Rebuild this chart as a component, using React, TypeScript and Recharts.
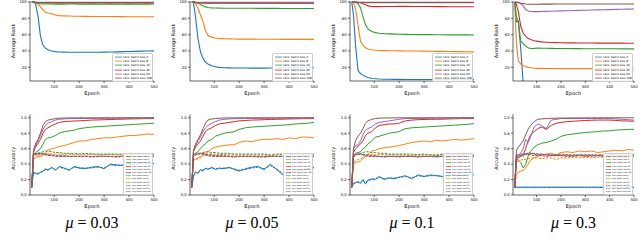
import React from "react";
import { LineChart, Line, XAxis, YAxis, Legend } from "recharts";

const epochs = [10, 17, 25, 35, 45, 55, 65, 75, 90, 105, 120, 140, 160, 180, 200, 225, 250, 275, 300, 325, 350, 375, 400, 425, 450, 475, 500];
const batchSizes = [4, 8, 16, 32, 64, 128];
const colors = ["#1f77b4", "#ff7f0e", "#2ca02c", "#d62728", "#9467bd", "#8c564b"];
const muValues = ["0.03", "0.05", "0.1", "0.3"];
const xTicks = [100, 200, 300, 400, 500];
const rankTicks = [20, 40, 60, 80, 100];
const accTicks = [0, 0.2, 0.4, 0.6, 0.8, 1.0];

// average rank, one row per batch size (4, 8, 16, 32, 64, 128)
const rankMu003 = [
  [100, 100, 98, 83, 58, 47, 43.5, 41.5, 40, 39.2, 38.8, 38.6, 38.5, 38.5, 38.4, 38.5, 38.4, 38.5, 38.6, 38.8, 39, 39.2, 39.4, 39.6, 39.8, 40, 40.2],
  [100, 100, 99, 97.5, 94, 90, 87.5, 86.5, 85.5, 84, 83.3, 83, 82.8, 82.6, 82.5, 82.4, 82.3, 82.3, 82.2, 82.2, 82.1, 82.1, 82, 82, 82, 81.9, 81.9],
  [100, 99.8, 99, 98.2, 97.8, 97.6, 97.5, 97.5, 97.5, 97.4, 97.4, 97.4, 97.5, 97.5, 97.4, 97.5, 97.4, 97.4, 97.5, 97.4, 97.5, 97.4, 97.5, 97.4, 97.5, 97.4, 97.5],
  [100, 100, 99.6, 99.3, 99.2, 99.1, 99, 99, 99, 99, 98.9, 99, 99, 98.9, 99, 99, 98.9, 99, 99, 98.9, 99, 99, 98.9, 99, 99, 98.9, 99],
  [100, 100, 99.8, 99.6, 99.5, 99.5, 99.5, 99.5, 99.5, 99.5, 99.5, 99.5, 99.5, 99.5, 99.5, 99.5, 99.5, 99.5, 99.5, 99.5, 99.5, 99.5, 99.5, 99.5, 99.5, 99.5, 99.5],
  [100, 100, 99.7, 99.4, 99.3, 99.2, 99.2, 99.2, 99.2, 99.2, 99.2, 99.2, 99.2, 99.2, 99.2, 99.2, 99.2, 99.2, 99.2, 99.2, 99.2, 99.2, 99.2, 99.2, 99.2, 99.2, 99.2],
];
const rankMu005 = [
  [100, 99, 82, 55, 39, 31, 26.5, 24, 22, 20.8, 20, 19.6, 19.4, 19.3, 19.2, 19.2, 19.1, 19.1, 19.1, 19.2, 19.2, 19.3, 19.3, 19.4, 19.4, 19.5, 19.5],
  [100, 100, 98, 92, 84, 76, 65, 59, 57, 56, 55.5, 55, 54.8, 54.7, 54.6, 54.5, 54.5, 54.4, 54.4, 54.4, 54.3, 54.3, 54.3, 54.2, 54.2, 54.2, 54.2],
  [100, 100, 99.5, 98.5, 97, 95.5, 94, 93.3, 92.8, 92.6, 92.5, 92.4, 92.4, 92.3, 92.3, 92.3, 92.3, 92.2, 92.2, 92.2, 92.2, 92.1, 92.1, 92.1, 92, 92, 92],
  [100, 100, 99.5, 99.2, 99, 98.9, 98.9, 98.8, 98.8, 98.8, 98.8, 98.8, 98.8, 98.8, 98.8, 98.8, 98.8, 98.8, 98.8, 98.8, 98.8, 98.8, 98.8, 98.8, 98.8, 98.8, 98.8],
  [100, 100, 99.8, 99.7, 99.6, 99.6, 99.6, 99.6, 99.6, 99.6, 99.6, 99.6, 99.6, 99.6, 99.6, 99.6, 99.6, 99.6, 99.6, 99.6, 99.6, 99.6, 99.6, 99.6, 99.6, 99.6, 99.6],
  [100, 100, 99.4, 99, 98.8, 98.7, 98.6, 98.6, 98.6, 98.6, 98.6, 98.6, 98.6, 98.6, 98.6, 98.6, 98.6, 98.6, 98.6, 98.6, 98.6, 98.6, 98.6, 98.6, 98.6, 98.6, 98.6],
];
const rankMu01 = [
  [100, 84, 48, 16, 12.5, 10.5, 8.7, 7.5, 6.4, 6, 5.7, 5.5, 5.4, 5.3, 5.3, 5.2, 5.2, 5.2, 5.2, 5.2, 5.2, 5.2, 5.2, 5.2, 5.2, 5.2, 5.2],
  [100, 99, 92, 72, 52, 47, 44, 42.5, 41.5, 41, 40.7, 40.5, 40.4, 40.3, 40.2, 40.1, 40, 40, 39.9, 39.7, 39.6, 39.5, 39.4, 39.3, 39.2, 39.1, 39],
  [100, 100, 99.5, 98, 93, 82, 72, 67, 64, 62.5, 61.8, 61.3, 61, 60.7, 60.5, 60.3, 60.2, 60.1, 60, 60, 59.9, 59.9, 59.8, 59.8, 59.7, 59.7, 59.6],
  [100, 100, 99.8, 99.5, 99, 97.8, 96.5, 95.2, 94.5, 94.3, 94.3, 94.4, 94.5, 94.5, 94.6, 94.6, 94.5, 94.4, 94.4, 94.4, 94.3, 94.3, 94.2, 94.2, 94.2, 94.1, 94.1],
  [100, 100, 99.6, 99.3, 99.1, 99, 99, 99, 99, 99, 99, 99, 99, 99, 99, 99, 99, 99, 99, 99, 99, 99, 99, 99, 99, 99, 99],
  [100, 100, 99.8, 99.6, 99.5, 99.5, 99.5, 99.5, 99.5, 99.5, 99.5, 99.5, 99.5, 99.5, 99.5, 99.5, 99.5, 99.5, 99.5, 99.5, 99.5, 99.5, 99.5, 99.5, 99.5, 99.5, 99.5],
];
const rankMu03 = [
  [100, 76, 76, 42, 0, 0, 0, 0, 0, 0, 0, 0, 0, 0, 0, 0, 0, 0, 0, 0, 0, 0, 0, 0, 0, 0, 0],
  [100, 50, 28, 24, 22, 21, 20, 19.5, 19, 18.8, 18.7, 18.6, 18.6, 18.5, 18.5, 18.5, 18.5, 18.4, 18.4, 18.4, 18.4, 18.4, 18.3, 18.3, 18.3, 18.3, 18.3],
  [100, 82, 76, 52, 49, 46, 44, 43, 43.2, 43.5, 43.4, 43.3, 43.2, 43.1, 43, 43, 42.9, 42.9, 42.8, 42.8, 42.8, 42.7, 42.7, 42.7, 42.6, 42.6, 42.6],
  [100, 97, 88, 70, 62, 58, 55.5, 54, 52.5, 51.8, 51.2, 50.8, 50.5, 50.3, 50.2, 50, 49.9, 49.8, 49.8, 49.8, 49.7, 49.7, 49.6, 49.6, 49.6, 49.5, 49.5],
  [100, 100, 99.5, 98, 95, 91, 89, 88.5, 88.2, 88.2, 88.3, 88.5, 88.7, 88.9, 89.1, 89.3, 89.5, 89.7, 89.9, 90.1, 90.3, 90.5, 90.7, 90.9, 91.1, 91.3, 91.5],
  [100, 99.5, 99, 98.5, 98, 97.5, 97.2, 97.2, 97.3, 97.3, 97.4, 97.4, 97.4, 97.5, 97.5, 97.5, 97.5, 97.5, 97.5, 97.5, 97.5, 97.5, 97.5, 97.5, 97.5, 97.5, 97.5],
];

// train accuracy, one row per batch size
const trainMu003 = [
  [0.1, 0.3, 0.28, 0.27, 0.29, 0.31, 0.34, 0.32, 0.36, 0.32, 0.37, 0.35, 0.32, 0.37, 0.35, 0.34, 0.36, 0.37, 0.34, 0.4, 0.39, 0.38, 0.41, 0.4, 0.42, 0.41, 0.41],
  [0.1, 0.47, 0.48, 0.5, 0.5, 0.51, 0.55, 0.58, 0.6, 0.61, 0.63, 0.64, 0.66, 0.68, 0.7, 0.7, 0.72, 0.73, 0.74, 0.74, 0.75, 0.76, 0.77, 0.77, 0.78, 0.79, 0.785],
  [0.1, 0.52, 0.55, 0.57, 0.6, 0.66, 0.72, 0.74, 0.75, 0.77, 0.8, 0.82, 0.83, 0.84, 0.86, 0.87, 0.88, 0.885, 0.89, 0.895, 0.9, 0.905, 0.91, 0.915, 0.92, 0.925, 0.93],
  [0.1, 0.55, 0.62, 0.67, 0.72, 0.8, 0.85, 0.87, 0.9, 0.92, 0.94, 0.95, 0.955, 0.958, 0.96, 0.965, 0.97, 0.972, 0.975, 0.977, 0.98, 0.982, 0.985, 0.986, 0.988, 0.989, 0.99],
  [0.1, 0.56, 0.64, 0.7, 0.77, 0.85, 0.9, 0.93, 0.95, 0.97, 0.98, 0.985, 0.988, 0.99, 0.99, 0.991, 0.992, 0.992, 0.993, 0.993, 0.994, 0.994, 0.995, 0.995, 0.995, 0.996, 0.996],
  [0.1, 0.58, 0.66, 0.72, 0.8, 0.9, 0.95, 0.97, 0.98, 0.99, 0.995, 0.997, 0.998, 0.998, 0.999, 0.999, 0.999, 0.999, 1, 1, 1, 1, 1, 1, 1, 1, 1],
];
const testMu003 = [
  [0.1, 0.29, 0.28, 0.28, 0.3, 0.3, 0.33, 0.33, 0.35, 0.33, 0.36, 0.34, 0.33, 0.36, 0.35, 0.35, 0.35, 0.36, 0.35, 0.39, 0.38, 0.39, 0.4, 0.39, 0.41, 0.4, 0.4],
  [0.1, 0.5, 0.51, 0.52, 0.52, 0.53, 0.54, 0.54, 0.53, 0.53, 0.53, 0.53, 0.53, 0.52, 0.53, 0.52, 0.53, 0.52, 0.52, 0.53, 0.52, 0.52, 0.52, 0.53, 0.52, 0.52, 0.52],
  [0.1, 0.51, 0.53, 0.54, 0.55, 0.56, 0.57, 0.57, 0.56, 0.55, 0.55, 0.54, 0.54, 0.54, 0.53, 0.54, 0.53, 0.53, 0.53, 0.53, 0.53, 0.53, 0.52, 0.53, 0.53, 0.53, 0.53],
  [0.1, 0.52, 0.53, 0.53, 0.53, 0.54, 0.53, 0.52, 0.52, 0.51, 0.51, 0.51, 0.5, 0.5, 0.5, 0.5, 0.5, 0.5, 0.5, 0.5, 0.5, 0.5, 0.5, 0.5, 0.5, 0.5, 0.5],
  [0.1, 0.52, 0.53, 0.53, 0.54, 0.53, 0.52, 0.52, 0.51, 0.51, 0.5, 0.5, 0.5, 0.5, 0.5, 0.5, 0.5, 0.5, 0.5, 0.5, 0.5, 0.5, 0.5, 0.5, 0.5, 0.5, 0.5],
  [0.1, 0.53, 0.53, 0.54, 0.54, 0.53, 0.52, 0.51, 0.51, 0.5, 0.5, 0.5, 0.5, 0.5, 0.5, 0.5, 0.49, 0.5, 0.5, 0.5, 0.49, 0.5, 0.5, 0.5, 0.5, 0.49, 0.5],
];
const trainMu005 = [
  [0.1, 0.25, 0.3, 0.28, 0.33, 0.31, 0.35, 0.33, 0.36, 0.33, 0.35, 0.34, 0.36, 0.33, 0.31, 0.34, 0.36, 0.37, 0.33, 0.4, 0.33, 0.26, 0.3, 0.32, 0.31, 0.34, 0.36],
  [0.1, 0.45, 0.46, 0.48, 0.5, 0.52, 0.54, 0.56, 0.6, 0.62, 0.63, 0.64, 0.65, 0.65, 0.68, 0.7, 0.69, 0.71, 0.72, 0.72, 0.73, 0.72, 0.74, 0.73, 0.75, 0.75, 0.74],
  [0.1, 0.52, 0.54, 0.56, 0.6, 0.64, 0.66, 0.7, 0.72, 0.76, 0.78, 0.8, 0.81, 0.82, 0.85, 0.87, 0.88, 0.885, 0.89, 0.895, 0.9, 0.905, 0.91, 0.92, 0.925, 0.93, 0.94],
  [0.1, 0.56, 0.62, 0.66, 0.7, 0.76, 0.82, 0.85, 0.87, 0.9, 0.92, 0.93, 0.94, 0.95, 0.96, 0.965, 0.97, 0.972, 0.975, 0.978, 0.98, 0.982, 0.985, 0.986, 0.988, 0.989, 0.99],
  [0.1, 0.57, 0.64, 0.7, 0.75, 0.82, 0.87, 0.9, 0.93, 0.95, 0.97, 0.98, 0.985, 0.988, 0.99, 0.99, 0.992, 0.992, 0.993, 0.994, 0.994, 0.995, 0.995, 0.996, 0.996, 0.996, 0.997],
  [0.1, 0.58, 0.66, 0.72, 0.78, 0.86, 0.93, 0.97, 0.985, 0.99, 0.995, 0.997, 0.998, 0.999, 0.999, 1, 1, 1, 1, 1, 1, 1, 1, 1, 1, 1, 1],
];
const testMu005 = [
  [0.1, 0.24, 0.29, 0.29, 0.32, 0.32, 0.34, 0.34, 0.35, 0.34, 0.34, 0.35, 0.35, 0.34, 0.32, 0.33, 0.35, 0.36, 0.34, 0.38, 0.34, 0.28, 0.3, 0.31, 0.32, 0.33, 0.35],
  [0.1, 0.45, 0.46, 0.47, 0.48, 0.5, 0.52, 0.53, 0.53, 0.53, 0.52, 0.53, 0.52, 0.52, 0.52, 0.52, 0.52, 0.52, 0.52, 0.51, 0.52, 0.52, 0.51, 0.52, 0.52, 0.51, 0.52],
  [0.1, 0.5, 0.52, 0.53, 0.54, 0.55, 0.56, 0.56, 0.55, 0.55, 0.54, 0.54, 0.54, 0.53, 0.53, 0.53, 0.53, 0.53, 0.53, 0.52, 0.53, 0.53, 0.52, 0.53, 0.52, 0.53, 0.53],
  [0.1, 0.51, 0.52, 0.53, 0.54, 0.54, 0.53, 0.52, 0.52, 0.51, 0.51, 0.51, 0.5, 0.5, 0.5, 0.5, 0.5, 0.5, 0.5, 0.5, 0.5, 0.5, 0.5, 0.5, 0.5, 0.5, 0.5],
  [0.1, 0.52, 0.52, 0.53, 0.53, 0.53, 0.52, 0.51, 0.51, 0.5, 0.5, 0.5, 0.5, 0.5, 0.5, 0.5, 0.5, 0.49, 0.5, 0.5, 0.5, 0.5, 0.49, 0.5, 0.5, 0.5, 0.5],
  [0.1, 0.52, 0.53, 0.54, 0.54, 0.53, 0.52, 0.51, 0.5, 0.5, 0.5, 0.5, 0.5, 0.49, 0.5, 0.5, 0.5, 0.5, 0.49, 0.5, 0.5, 0.5, 0.5, 0.49, 0.5, 0.5, 0.5],
];
const trainMu01 = [
  [0.1, 0.15, 0.16, 0.17, 0.15, 0.2, 0.14, 0.19, 0.21, 0.2, 0.24, 0.2, 0.22, 0.21, 0.23, 0.25, 0.21, 0.26, 0.24, 0.26, 0.25, 0.24, 0.26, 0.26, 0.25, 0.27, 0.26],
  [0.1, 0.42, 0.41, 0.43, 0.44, 0.47, 0.5, 0.52, 0.57, 0.58, 0.6, 0.61, 0.62, 0.63, 0.64, 0.66, 0.68, 0.69, 0.7, 0.69, 0.71, 0.7, 0.71, 0.72, 0.71, 0.72, 0.73],
  [0.1, 0.5, 0.54, 0.55, 0.56, 0.6, 0.62, 0.66, 0.7, 0.75, 0.76, 0.78, 0.8, 0.81, 0.82, 0.86, 0.87, 0.875, 0.88, 0.885, 0.89, 0.895, 0.9, 0.905, 0.91, 0.915, 0.925],
  [0.1, 0.55, 0.6, 0.63, 0.66, 0.7, 0.77, 0.8, 0.82, 0.87, 0.9, 0.91, 0.92, 0.92, 0.93, 0.96, 0.97, 0.975, 0.978, 0.98, 0.98, 0.982, 0.985, 0.987, 0.99, 0.99, 0.99],
  [0.1, 0.6, 0.64, 0.65, 0.7, 0.78, 0.84, 0.86, 0.88, 0.92, 0.94, 0.95, 0.96, 0.97, 0.98, 0.99, 0.99, 0.992, 0.993, 0.994, 0.995, 0.995, 0.996, 0.996, 0.996, 0.997, 0.997],
  [0.1, 0.6, 0.7, 0.76, 0.8, 0.86, 0.93, 0.96, 0.98, 0.99, 0.995, 0.997, 0.998, 0.999, 1, 1, 1, 1, 1, 1, 1, 1, 1, 1, 1, 1, 1],
];
const testMu01 = [
  [0.1, 0.14, 0.16, 0.17, 0.16, 0.19, 0.16, 0.19, 0.2, 0.21, 0.23, 0.21, 0.22, 0.22, 0.23, 0.24, 0.22, 0.25, 0.24, 0.25, 0.25, 0.24, 0.25, 0.26, 0.25, 0.26, 0.26],
  [0.1, 0.43, 0.44, 0.46, 0.47, 0.49, 0.51, 0.52, 0.53, 0.52, 0.53, 0.52, 0.52, 0.52, 0.52, 0.52, 0.51, 0.52, 0.52, 0.52, 0.51, 0.52, 0.52, 0.51, 0.52, 0.52, 0.51],
  [0.1, 0.49, 0.51, 0.53, 0.54, 0.55, 0.56, 0.56, 0.55, 0.55, 0.54, 0.54, 0.53, 0.53, 0.53, 0.53, 0.53, 0.52, 0.53, 0.52, 0.52, 0.53, 0.52, 0.52, 0.52, 0.52, 0.52],
  [0.1, 0.5, 0.52, 0.53, 0.53, 0.53, 0.52, 0.52, 0.51, 0.51, 0.5, 0.5, 0.5, 0.5, 0.5, 0.5, 0.5, 0.5, 0.5, 0.5, 0.5, 0.5, 0.5, 0.5, 0.5, 0.5, 0.5],
  [0.1, 0.51, 0.52, 0.53, 0.53, 0.52, 0.52, 0.51, 0.5, 0.5, 0.5, 0.5, 0.5, 0.5, 0.49, 0.5, 0.5, 0.5, 0.5, 0.5, 0.49, 0.5, 0.5, 0.5, 0.5, 0.5, 0.5],
  [0.1, 0.52, 0.53, 0.53, 0.53, 0.52, 0.51, 0.5, 0.5, 0.5, 0.5, 0.49, 0.5, 0.5, 0.5, 0.5, 0.5, 0.49, 0.5, 0.5, 0.5, 0.5, 0.49, 0.5, 0.5, 0.5, 0.5],
];
const trainMu03 = [
  [0.1, 0.1, 0.1, 0.1, 0.1, 0.1, 0.1, 0.1, 0.1, 0.1, 0.1, 0.1, 0.1, 0.1, 0.1, 0.1, 0.1, 0.1, 0.1, 0.1, 0.1, 0.1, 0.1, 0.1, 0.1, 0.1, 0.1],
  [0.1, 0.27, 0.29, 0.31, 0.32, 0.35, 0.4, 0.45, 0.48, 0.5, 0.52, 0.53, 0.54, 0.52, 0.55, 0.56, 0.55, 0.57, 0.56, 0.57, 0.55, 0.56, 0.57, 0.58, 0.57, 0.59, 0.58],
  [0.1, 0.46, 0.45, 0.42, 0.35, 0.4, 0.5, 0.56, 0.62, 0.65, 0.67, 0.68, 0.7, 0.72, 0.76, 0.78, 0.79, 0.8, 0.81, 0.815, 0.82, 0.83, 0.83, 0.84, 0.845, 0.85, 0.85],
  [0.1, 0.45, 0.48, 0.5, 0.52, 0.6, 0.7, 0.78, 0.82, 0.86, 0.88, 0.85, 0.9, 0.93, 0.94, 0.95, 0.955, 0.96, 0.965, 0.968, 0.97, 0.97, 0.97, 0.965, 0.96, 0.958, 0.955],
  [0.1, 0.52, 0.5, 0.55, 0.6, 0.72, 0.68, 0.75, 0.88, 0.92, 0.9, 0.86, 0.97, 0.98, 0.99, 0.99, 0.99, 0.99, 0.99, 0.99, 0.99, 0.99, 0.99, 0.985, 0.98, 0.975, 0.97],
  [0.1, 0.58, 0.62, 0.66, 0.7, 0.78, 0.85, 0.9, 0.95, 0.98, 0.985, 0.99, 0.993, 0.995, 0.996, 0.997, 0.998, 0.998, 0.999, 0.999, 1, 1, 1, 1, 1, 1, 1],
];
const testMu03 = [
  [0.1, 0.1, 0.1, 0.1, 0.1, 0.1, 0.1, 0.1, 0.1, 0.1, 0.1, 0.1, 0.1, 0.1, 0.1, 0.1, 0.1, 0.1, 0.1, 0.1, 0.1, 0.1, 0.1, 0.1, 0.1, 0.1, 0.1],
  [0.1, 0.42, 0.44, 0.45, 0.46, 0.46, 0.47, 0.48, 0.48, 0.48, 0.47, 0.48, 0.48, 0.46, 0.48, 0.48, 0.49, 0.48, 0.49, 0.48, 0.49, 0.49, 0.48, 0.49, 0.49, 0.48, 0.49],
  [0.1, 0.48, 0.5, 0.52, 0.5, 0.53, 0.55, 0.54, 0.54, 0.53, 0.53, 0.52, 0.52, 0.52, 0.53, 0.52, 0.52, 0.52, 0.52, 0.52, 0.52, 0.52, 0.52, 0.52, 0.52, 0.52, 0.52],
  [0.1, 0.48, 0.5, 0.51, 0.52, 0.53, 0.53, 0.54, 0.53, 0.52, 0.52, 0.52, 0.51, 0.51, 0.51, 0.51, 0.51, 0.51, 0.51, 0.51, 0.51, 0.51, 0.51, 0.51, 0.51, 0.51, 0.51],
  [0.1, 0.5, 0.5, 0.51, 0.52, 0.54, 0.53, 0.53, 0.54, 0.53, 0.53, 0.52, 0.52, 0.52, 0.52, 0.52, 0.51, 0.52, 0.52, 0.52, 0.51, 0.52, 0.52, 0.52, 0.52, 0.51, 0.52],
  [0.1, 0.52, 0.52, 0.53, 0.53, 0.53, 0.52, 0.52, 0.51, 0.51, 0.51, 0.5, 0.51, 0.51, 0.51, 0.5, 0.5, 0.51, 0.5, 0.5, 0.51, 0.5, 0.5, 0.5, 0.5, 0.5, 0.5],
];

const rankByMu = [rankMu003, rankMu005, rankMu01, rankMu03];
const trainByMu = [trainMu003, trainMu005, trainMu01, trainMu03];
const testByMu = [testMu003, testMu005, testMu01, testMu03];

const caption =
  "Figure 3: Average rank and accuracy performance of MLP for the ASCAD dataset with different batch sizes and values of";

// panel placement
const colLeft = [0, 160, 320, 483];
const plotWidth = [124, 124, 124, 121];
const yAxisW = 30;

const font = "DejaVu Sans";
const serif = "'Liberation Serif', 'Times New Roman', serif";
const tickStyle = { fontSize: 3.8, fill: "#000", fontFamily: font };
const axisStroke = { stroke: "#000", strokeWidth: 0.6 };

const yLabel = (text: string, cx: number, cy: number) => ({
  value: text,
  content: () => (
    <text
      x={cx}
      y={cy}
      transform={`rotate(-90 ${cx} ${cy})`}
      textAnchor="middle"
      dominantBaseline="central"
      fontSize={5}
      fontFamily={font}
      fill="#000"
    >
      {text}
    </text>
  ),
});

function TinyLegend({ payload, order, rowH, fontSize, sampleW, width }: any) {
  const items = [...(payload || [])].sort(
    (a: any, b: any) => order.indexOf(a.dataKey) - order.indexOf(b.dataKey)
  );
  return (
    <div
      style={{
        width,
        boxSizing: "border-box",
        background: "rgba(255,255,255,0.85)",
        border: "0.5px solid #cccccc",
        borderRadius: 1.5,
        padding: "1px 1.5px",
      }}
    >
      {items.map((e: any) => (
        <div key={e.value} style={{ display: "flex", alignItems: "center", height: rowH }}>
          <svg width={sampleW} height={rowH} style={{ flex: "none", display: "block" }}>
            <line
              x1={0}
              y1={rowH / 2}
              x2={sampleW}
              y2={rowH / 2}
              stroke={e.color}
              strokeWidth={0.8}
              strokeDasharray={e.payload?.strokeDasharray ? "1.5 0.8" : undefined}
            />
          </svg>
          <span
            style={{
              marginLeft: 1.5,
              fontSize,
              lineHeight: `${rowH}px`,
              fontFamily: font,
              whiteSpace: "nowrap",
              color: "#000",
            }}
          >
            {e.value}
          </span>
        </div>
      ))}
    </div>
  );
}

function RankPanel({ col }: { col: number }) {
  const w = plotWidth[col];
  const series = rankByMu[col];
  const keys = batchSizes.map((b) => "b" + b);
  const data = epochs.map((epoch, i) => {
    const row: Record<string, number> = { epoch };
    keys.forEach((key, k) => (row[key] = series[k][i]));
    return row;
  });
  return (
    <div style={{ position: "absolute", left: colLeft[col], top: 0 }}>
      <LineChart width={yAxisW + w + 6} height={100} data={data} margin={{ top: 1, right: 6, bottom: 0, left: 0 }}>
        <XAxis
          dataKey="epoch"
          type="number"
          domain={[3, 500]}
          ticks={xTicks}
          interval={0}
          height={19}
          tickSize={2}
          tickMargin={2.8}
          tick={tickStyle}
          axisLine={axisStroke}
          tickLine={axisStroke}
          label={{ value: "Epoch", position: "insideBottom", offset: 5.5, fontSize: 5, fill: "#000", fontFamily: font }}
        />
        <XAxis xAxisId="frame" orientation="top" type="number" domain={[0, 1]} height={0} tick={false} tickLine={false} axisLine={axisStroke} />
        <YAxis
          type="number"
          domain={[3.3, 101.2]}
          allowDataOverflow
          ticks={rankTicks}
          interval={0}
          width={yAxisW}
          tickSize={2}
          tickMargin={1.3}
          tick={tickStyle}
          axisLine={axisStroke}
          tickLine={axisStroke}
          label={yLabel("Average Rank", 13, 41)}
        />
        <YAxis yAxisId="frame" orientation="right" type="number" domain={[0, 1]} width={0} tick={false} tickLine={false} axisLine={axisStroke} />
        {batchSizes.map((b, k) => (
          <Line
            key={b}
            dataKey={keys[k]}
            name={`rank, batch size ${b}`}
            stroke={colors[k]}
            strokeWidth={1.1}
            dot={false}
            isAnimationActive={false}
          />
        ))}
        <Legend
          layout="vertical"
          align="center"
          verticalAlign="middle"
          wrapperStyle={{ left: yAxisW + w - 42, top: 53, width: 41 }}
          content={(p: any) => (
            <TinyLegend payload={p.payload} order={keys} rowH={4.2} fontSize={2.8} sampleW={7} width={41} />
          )}
        />
      </LineChart>
    </div>
  );
}

function AccPanel({ col }: { col: number }) {
  const w = plotWidth[col];
  const train = trainByMu[col];
  const test = testByMu[col];
  const keys = [...batchSizes.map((b) => "train" + b), ...batchSizes.map((b) => "test" + b)];
  const data = epochs.map((epoch, i) => {
    const row: Record<string, number> = { epoch };
    batchSizes.forEach((b, k) => {
      row["train" + b] = train[k][i];
      row["test" + b] = test[k][i];
    });
    return row;
  });
  return (
    <div style={{ position: "absolute", left: colLeft[col], top: 100 }}>
      <LineChart width={yAxisW + w + 6} height={115} data={data} margin={{ top: 14.3, right: 6, bottom: 0, left: 0 }}>
        <XAxis
          dataKey="epoch"
          type="number"
          domain={[3, 500]}
          ticks={xTicks}
          interval={0}
          height={20}
          tickSize={2}
          tickMargin={1.6}
          tick={tickStyle}
          axisLine={axisStroke}
          tickLine={axisStroke}
          label={{ value: "Epoch", position: "insideBottom", offset: 7.5, fontSize: 5, fill: "#000", fontFamily: font }}
        />
        <XAxis xAxisId="frame" orientation="top" type="number" domain={[0, 1]} height={0} tick={false} tickLine={false} axisLine={axisStroke} />
        <YAxis
          type="number"
          domain={[0, 1.045]}
          allowDataOverflow
          ticks={accTicks}
          interval={0}
          width={yAxisW}
          tickSize={2}
          tickMargin={1.3}
          tick={tickStyle}
          tickFormatter={(v: number) => v.toFixed(1)}
          axisLine={axisStroke}
          tickLine={axisStroke}
          label={yLabel("Accuracy", 13, 58.3)}
        />
        <YAxis yAxisId="frame" orientation="right" type="number" domain={[0, 1]} width={0} tick={false} tickLine={false} axisLine={axisStroke} />
        {batchSizes.map((b, k) => (
          <Line
            key={"train" + b}
            dataKey={"train" + b}
            name={`train, batch size ${b}`}
            stroke={colors[k]}
            strokeWidth={1}
            dot={false}
            isAnimationActive={false}
          />
        ))}
        {batchSizes.map((b, k) => (
          <Line
            key={"test" + b}
            dataKey={"test" + b}
            name={`test, batch size ${b}`}
            stroke={colors[k]}
            strokeWidth={1}
            strokeDasharray="2.5 1.2"
            dot={false}
            isAnimationActive={false}
          />
        ))}
        <Legend
          layout="vertical"
          align="center"
          verticalAlign="middle"
          wrapperStyle={{ left: yAxisW + w - 31, top: 53, width: 30 }}
          content={(p: any) => (
            <TinyLegend payload={p.payload} order={keys} rowH={3.2} fontSize={1.9} sampleW={5} width={30} />
          )}
        />
      </LineChart>
    </div>
  );
}

export default function App() {
  return (
    <div
      style={{
        position: "absolute",
        left: 0,
        top: 0,
        width: 640,
        height: 250,
        overflow: "hidden",
        background: "#fff",
      }}
    >
      {muValues.map((_, col) => (
        <RankPanel key={"r" + col} col={col} />
      ))}
      {muValues.map((_, col) => (
        <AccPanel key={"a" + col} col={col} />
      ))}
      <svg width={640} height={250} style={{ position: "absolute", left: 0, top: 0, pointerEvents: "none" }}>
        {muValues.map((mu, col) => (
          <text
            key={mu}
            x={colLeft[col] + yAxisW + plotWidth[col] / 2}
            y={227.5}
            textAnchor="middle"
            fill="#000"
            style={{ fontFamily: serif, fontSize: 16 }}
          >
            <tspan fontStyle="italic">μ</tspan>
            {` = ${mu}`}
          </text>
        ))}
        <text x={0} y={261} fill="#555" style={{ fontFamily: serif, fontSize: 15 }}>
          {caption}
        </text>
      </svg>
    </div>
  );
}
